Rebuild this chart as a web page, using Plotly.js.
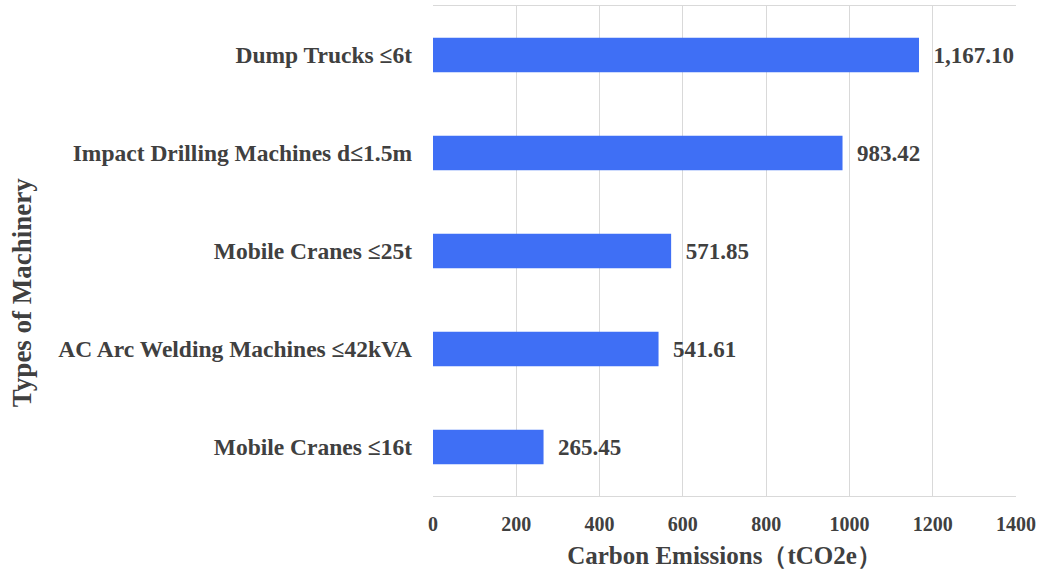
<!DOCTYPE html>
<html>
<head>
<meta charset="utf-8">
<script src="https://cdn.plot.ly/plotly-3.0.1.min.js"></script>
<style>html,body{margin:0;padding:0;background:#fff;}#chart{width:1043px;height:576px;}</style>
</head>
<body>
<div id="chart"></div>
<script>
const categories = ["Dump Trucks ≤6t", "Impact Drilling Machines d≤1.5m", "Mobile Cranes ≤25t", "AC Arc Welding Machines ≤42kVA", "Mobile Cranes ≤16t"];
const values = [1167.10, 983.42, 571.85, 541.61, 265.45];
const xTicks = [0, 200, 400, 600, 800, 1000, 1200, 1400];
const xTitle = "Carbon Emissions（tCO2e）";
const yTitle = "Types of Machinery";

const fontFam = "Liberation Serif, Times New Roman, serif";
const txtColor = "#404040";

const trace = {
  type: "bar",
  orientation: "h",
  y: categories,
  x: values,
  width: 0.35,
  marker: {color: "#3f6ff5"},
  texttemplate: "\u00a0\u00a0%{x:,.2f}",
  textposition: "outside",
  cliponaxis: false,
  textfont: {family: fontFam, size: 23, color: txtColor, weight: "bold"},
  hoverinfo: "none"
};

const layout = {
  width: 1043, height: 576,
  margin: {l: 433, r: 27, t: 6, b: 80},
  paper_bgcolor: "#fff", plot_bgcolor: "#fff",
  showlegend: false,
  font: {family: fontFam, color: txtColor},
  xaxis: {
    range: [0, 1400],
    tickvals: xTicks,
    ticktext: xTicks.map(String),
    showgrid: true, gridcolor: "#d9d9d9", gridwidth: 1,
    zeroline: false,
    showline: true, linecolor: "#d9d9d9", mirror: true,
    ticks: "", ticklabelstandoff: 10,
    tickfont: {family: fontFam, size: 20, color: txtColor, weight: "bold"},
    title: {text: xTitle, font: {family: fontFam, size: 25, color: txtColor, weight: "bold"}, standoff: 12},
    fixedrange: true
  },
  yaxis: {
    categoryorder: "array",
    categoryarray: categories.slice().reverse(),
    autorange: true,
    showgrid: false, zeroline: false,
    showline: false,
    ticks: "", ticklabelstandoff: 20,
    tickfont: {family: fontFam, size: 23.5, color: txtColor, weight: "bold"},
    fixedrange: true
  },
  annotations: [{
    text: yTitle,
    xref: "paper", yref: "paper",
    x: -0.705, y: 0.416,
    xanchor: "center", yanchor: "middle",
    textangle: -90, showarrow: false,
    font: {family: fontFam, size: 27, color: txtColor, weight: "bold"}
  }],
  bargap: 0.65
};

Plotly.newPlot("chart", [trace], layout, {displayModeBar: false, staticPlot: true});
</script>
</body>
</html>
